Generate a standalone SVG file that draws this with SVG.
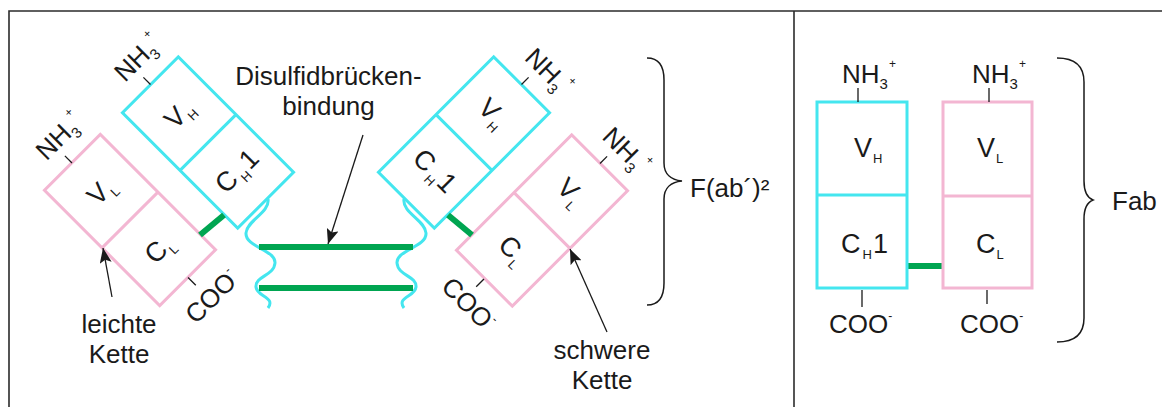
<svg xmlns="http://www.w3.org/2000/svg" width="1162" height="407" viewBox="0 0 1162 407">
  <style>
    text { font-family: "Liberation Sans", Arial, sans-serif; fill: #1a1a1a; }
    .t { font-size: 26px; }
    .dom { font-size: 27px; }
    .sub { font-size: 13px; }
    .s3 { font-size: 15px; }
    .sp { font-size: 12px; }
    .cy { fill: #ffffff; stroke: #44e6ef; stroke-width: 3; }
    .pk { fill: #ffffff; stroke: #f3b6d2; stroke-width: 3; }
    .cyl { fill: none; stroke: #44e6ef; stroke-width: 3; }
    .pkl { fill: none; stroke: #f3b6d2; stroke-width: 3; }
    .ss { stroke: #00a551; stroke-width: 6; fill: none; }
    .tick { stroke: #1a1a1a; stroke-width: 1.3; }
    .arr { stroke: #1a1a1a; stroke-width: 1.3; fill: none; marker-end: url(#ah); }
    .brace { fill: none; stroke: #1a1a1a; stroke-width: 1.5; }
    .frame { fill: none; stroke: #2b2b2b; stroke-width: 1.6; }
  </style>
  <defs>
    <marker id="ah" markerUnits="userSpaceOnUse" markerWidth="16" markerHeight="12" refX="15" refY="6" orient="auto">
      <path d="M0,0 L15,6 L0,12 L3,6 z" fill="#1a1a1a"/>
    </marker>
  </defs>

  <!-- panel frame -->
  <path class="frame" d="M9,407 V11 H1162"/>
  <line class="frame" x1="794" y1="11" x2="794" y2="407"/>

  <!-- ===== F(ab')2 fragment ===== -->
  <!-- hinge regions of the heavy chains -->
  <g id="hinge">
    <path class="cyl" d="M268,199 C270,213 247,220 246,233 C245,247 276,250 275,263 C274,276 255,276 256,287 C257,297 276,297 268,308"/>
    <path class="cyl" d="M404,199 C402,213 425,220 426,233 C427,247 396,250 397,263 C398,276 417,276 416,287 C415,297 396,297 404,308"/>
  </g>

  <!-- left heavy chain -->
  <g id="heavy-left">
    <g transform="translate(208,142.5) rotate(45)">
      <rect class="cy" x="-81.5" y="-39.5" width="163" height="79"/>
      <line class="cyl" x1="0" y1="-39.5" x2="0" y2="39.5"/>
    </g>
    <text class="dom" text-anchor="middle" y="9" transform="translate(179,114) rotate(-45)">V<tspan class="sub" dx="1" dy="6">H</tspan></text>
    <text class="dom" text-anchor="middle" y="9" transform="translate(237,171) rotate(-45)">C<tspan class="sub" dx="3" dy="6">H</tspan><tspan dx="2" dy="-6">1</tspan></text>
    <line class="tick" x1="150.5" y1="84.5" x2="143.4" y2="77.4"/>
    <text class="t" transform="translate(125,83) rotate(-45)">NH<tspan class="s3" dy="6">3</tspan><tspan class="sp" dx="1" dy="-21">+</tspan></text>
  </g>

  <!-- left light chain -->
  <g id="light-left">
    <g transform="translate(130,220) rotate(45)">
      <rect class="pk" x="-81.5" y="-39.5" width="163" height="79"/>
      <line class="pkl" x1="0" y1="-39.5" x2="0" y2="39.5"/>
    </g>
    <text class="dom" text-anchor="middle" y="9" transform="translate(101,191) rotate(-45)">V<tspan class="sub" dx="1" dy="6">L</tspan></text>
    <text class="dom" text-anchor="middle" y="9" transform="translate(159,249) rotate(-45)">C<tspan class="sub" dx="1" dy="6">L</tspan></text>
    <line class="tick" x1="72" y1="163" x2="64.9" y2="155.9"/>
    <text class="t" transform="translate(46.5,161.5) rotate(-45)">NH<tspan class="s3" dy="6">3</tspan><tspan class="sp" dx="1" dy="-21">+</tspan></text>
    <line class="tick" x1="188" y1="277.5" x2="195.8" y2="285.3"/>
    <text class="t" transform="translate(196,325) rotate(-45)">COO<tspan class="sp" dy="-13">-</tspan></text>
  </g>

  <!-- right heavy chain -->
  <g id="heavy-right">
    <g transform="translate(464,142.5) rotate(-45)">
      <rect class="cy" x="-81.5" y="-39.5" width="163" height="79"/>
      <line class="cyl" x1="0" y1="-39.5" x2="0" y2="39.5"/>
    </g>
    <text class="dom" text-anchor="middle" y="9" transform="translate(493,113) rotate(45)">V<tspan class="sub" dx="1" dy="6">H</tspan></text>
    <text class="dom" text-anchor="middle" y="9" transform="translate(435,171) rotate(45)">C<tspan class="sub" dx="3" dy="6">H</tspan><tspan dx="2" dy="-6">1</tspan></text>
    <line class="tick" x1="521.5" y1="84.5" x2="528.6" y2="77.4"/>
    <text class="t" transform="translate(523.5,59) rotate(45)">NH<tspan class="s3" dy="6">3</tspan><tspan class="sp" dx="1" dy="-21">+</tspan></text>
  </g>

  <!-- right light chain -->
  <g id="light-right">
    <g transform="translate(542,220.5) rotate(-45)">
      <rect class="pk" x="-81.5" y="-39.5" width="163" height="79"/>
      <line class="pkl" x1="0" y1="-39.5" x2="0" y2="39.5"/>
    </g>
    <text class="dom" text-anchor="middle" y="9" transform="translate(571,192) rotate(45)">V<tspan class="sub" dx="1" dy="6">L</tspan></text>
    <text class="dom" text-anchor="middle" y="9" transform="translate(513,250) rotate(45)">C<tspan class="sub" dx="1" dy="6">L</tspan></text>
    <line class="tick" x1="600" y1="163.5" x2="607.1" y2="156.4"/>
    <text class="t" transform="translate(601,138) rotate(45)">NH<tspan class="s3" dy="6">3</tspan><tspan class="sp" dx="1" dy="-21">+</tspan></text>
    <line class="tick" x1="484" y1="279" x2="476.2" y2="286.8"/>
    <text class="t" transform="translate(440,288) rotate(45)">COO<tspan class="sp" dy="-13">-</tspan></text>
  </g>

  <!-- interchain and hinge disulfide bonds, pointer arrows -->
  <g id="connectors">
    <line class="ss" x1="200" y1="235" x2="224" y2="215"/>
    <line class="ss" x1="472" y1="235" x2="448" y2="215"/>
    <line class="ss" x1="259" y1="247" x2="413" y2="247"/>
    <line class="ss" x1="259" y1="288" x2="413" y2="288"/>
    <line class="ss" x1="907" y1="266" x2="943" y2="266"/>
    <line class="arr" x1="363" y1="135" x2="328" y2="244"/>
    <line class="arr" x1="112" y1="297" x2="103" y2="248"/>
    <line class="arr" x1="607" y1="332" x2="570" y2="249"/>
  </g>

  <!-- captions -->
  <g id="label-disulfid">
    <text class="t" x="328.5" y="85" text-anchor="middle">Disulfidbrücken-</text>
    <text class="t" x="328.5" y="115" text-anchor="middle">bindung</text>
  </g>
  <g id="label-leichte">
    <text class="t" x="119" y="333" text-anchor="middle">leichte</text>
    <text class="t" x="119" y="363" text-anchor="middle">Kette</text>
  </g>
  <g id="label-schwere">
    <text class="t" x="602" y="359" text-anchor="middle">schwere</text>
    <text class="t" x="602" y="389" text-anchor="middle">Kette</text>
  </g>

  <g id="brace-fab2">
    <path class="brace" d="M647,58 C659,58 664,66 664,80 L664,163 C664,174 671,180 682,181 C671,182 664,188 664,199 L664,283 C664,297 659,305 647,305"/>
    <text class="t" x="690" y="197">F(ab´)²</text>
  </g>

  <!-- ===== Fab fragment ===== -->
  <g id="fab-heavy">
    <rect class="cy" x="817" y="102" width="90" height="186"/>
    <line class="cyl" x1="817" y1="195" x2="907" y2="195"/>
    <text class="dom" x="854" y="157">V<tspan class="sub" dx="1" dy="6">H</tspan></text>
    <text class="dom" x="841" y="253">C<tspan class="sub" dx="2" dy="6">H</tspan><tspan dx="1" dy="-6">1</tspan></text>
    <line class="tick" x1="858" y1="88" x2="858" y2="102"/>
    <text class="t" x="842" y="83">NH<tspan class="s3" dy="6">3</tspan><tspan class="sp" dx="1" dy="-21">+</tspan></text>
    <line class="tick" x1="862" y1="290" x2="862" y2="307"/>
    <text class="t" x="829" y="333">COO<tspan class="sp" dy="-13">-</tspan></text>
  </g>
  <g id="fab-light">
    <rect class="pk" x="943" y="102" width="89" height="186"/>
    <line class="pkl" x1="943" y1="196" x2="1032" y2="196"/>
    <text class="dom" x="977" y="157">V<tspan class="sub" dx="1" dy="6">L</tspan></text>
    <text class="dom" x="976" y="253">C<tspan class="sub" dx="1" dy="6">L</tspan></text>
    <line class="tick" x1="989" y1="88" x2="989" y2="102"/>
    <text class="t" x="972" y="83">NH<tspan class="s3" dy="6">3</tspan><tspan class="sp" dx="1" dy="-21">+</tspan></text>
    <line class="tick" x1="987" y1="290" x2="987" y2="304"/>
    <text class="t" x="960" y="333">COO<tspan class="sp" dy="-13">-</tspan></text>
  </g>
  <g id="brace-fab">
    <path class="brace" d="M1057,58 C1075,58 1084,66 1084,82 L1084,181 C1084,193 1088,198 1093,200 C1088,202 1084,207 1084,219 L1084,318 C1084,334 1075,342 1057,342"/>
    <text class="t" x="1112" y="210">Fab</text>
  </g>
</svg>
